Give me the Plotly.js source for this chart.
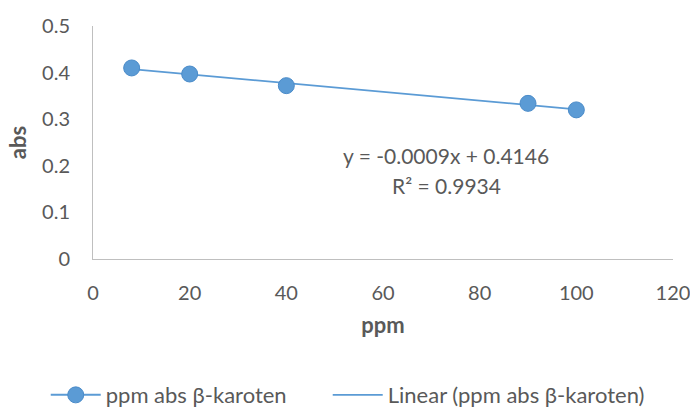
<!DOCTYPE html>
<html>
<head>
<meta charset="utf-8">
<script src="https://cdn.plot.ly/plotly-3.0.1.min.js"></script>
<style>html,body{margin:0;padding:0;background:#fff;}#chart{width:690px;height:407px;}</style>
</head>
<body>
<div id="chart"></div>
<script>
// Data
const ppm = [8, 20, 40, 90, 100];
const absValues = [0.410, 0.397, 0.372, 0.334, 0.320];
const seriesName = 'ppm abs β-karoten';
const trendName = 'Linear (ppm abs β-karoten)';
const equationText = 'y = -0.0009x + 0.4146';
const r2Text = 'R² = 0.9934';
const xTicks = [0, 20, 40, 60, 80, 100, 120];
const yTicks = [0, 0.1, 0.2, 0.3, 0.4, 0.5];

// least-squares fit for trendline
const n = ppm.length;
const mx = ppm.reduce((a, b) => a + b, 0) / n;
const my = absValues.reduce((a, b) => a + b, 0) / n;
let sxy = 0, sxx = 0;
for (let i = 0; i < n; i++) { sxy += (ppm[i] - mx) * (absValues[i] - my); sxx += (ppm[i] - mx) ** 2; }
const slope = sxy / sxx;
const intercept = my - slope * mx;
const xMin = Math.min(...ppm), xMax = Math.max(...ppm);
const trendX = [xMin, xMax];
const trendY = trendX.map(x => intercept + slope * x);

const blue = '#5b9bd5';
const txt = '#595959';
const font = 'Lato, "Open Sans", sans-serif';
const marker = {color: blue, size: 16, line: {color: '#4a8bc9', width: 1}};

const traces = [
  // legend entry for the series (marker with line, as in the legend)
  {
    x: [null], y: [null], name: seriesName, type: 'scatter', mode: 'lines+markers',
    line: {color: blue, width: 2}, marker: marker, legendgroup: 's', legend: 'legend'
  },
  {
    x: trendX, y: trendY, name: trendName, type: 'scatter', mode: 'lines',
    line: {color: blue, width: 1.8}, legend: 'legend2'
  },
  {
    x: ppm, y: absValues, name: seriesName, type: 'scatter', mode: 'markers',
    marker: marker, showlegend: false, legendgroup: 's'
  }
];

const legendBase = {
  orientation: 'h', xanchor: 'left', y: -0.584, yanchor: 'middle',
  font: {family: font, size: 22, color: txt}, itemwidth: 50, bgcolor: 'rgba(0,0,0,0)'
};

const layout = {
  width: 690, height: 407,
  margin: {l: 93, r: 17, t: 26, b: 148, autoexpand: false},
  paper_bgcolor: '#fff', plot_bgcolor: '#fff',
  font: {family: font, size: 20, color: txt},
  showlegend: true,
  xaxis: {
    range: [0, 120], tickvals: xTicks, ticktext: xTicks.map(String),
    showgrid: false, zeroline: false, showline: true, linecolor: '#bfbfbf', linewidth: 1,
    ticks: '', ticklabelstandoff: 16, ticklabeloverflow: 'allow',
    tickfont: {family: font, size: 20, color: txt},
    title: {text: '<b>ppm</b>', font: {family: font, size: 22, color: txt}, standoff: 14}
  },
  yaxis: {
    range: [0, 0.5], tickvals: yTicks, ticktext: yTicks.map(String),
    showgrid: false, zeroline: false, showline: true, linecolor: '#bfbfbf', linewidth: 1,
    ticks: '', ticklabelstandoff: 18,
    tickfont: {family: font, size: 20, color: txt},
    title: {text: '<b>abs</b>', font: {family: font, size: 22, color: txt}, standoff: 9}
  },
  legend: Object.assign({}, legendBase, {x: -0.0815}),
  legend2: Object.assign({}, legendBase, {x: 0.4047}),
  annotations: [
    {xref: 'paper', yref: 'paper', x: (446 - 93) / 580, y: (259 - 155) / 233, text: equationText,
     showarrow: false, xanchor: 'center', yanchor: 'middle', font: {family: font, size: 21, color: txt}},
    {xref: 'paper', yref: 'paper', x: (446 - 93) / 580, y: (259 - 185) / 233, text: r2Text,
     showarrow: false, xanchor: 'center', yanchor: 'middle', font: {family: font, size: 21, color: txt}}
  ]
};

Plotly.newPlot('chart', traces, layout, {displayModeBar: false, staticPlot: true});
</script>
</body>
</html>
